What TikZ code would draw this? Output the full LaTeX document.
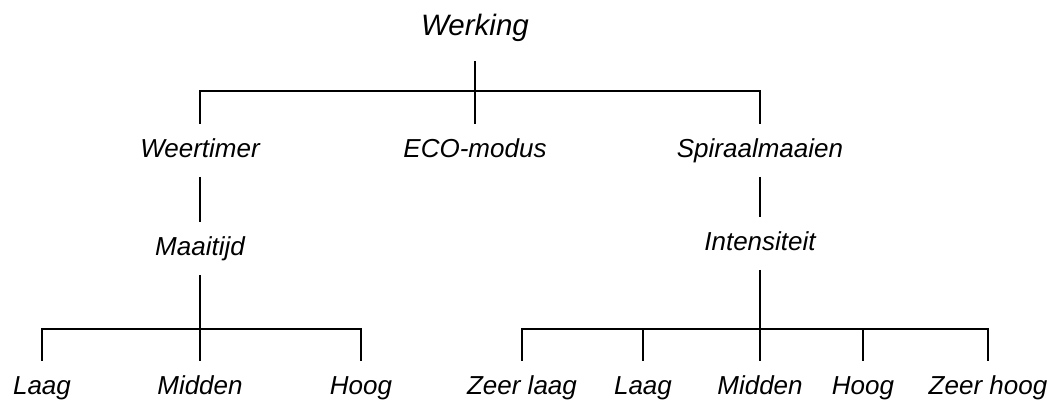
\documentclass[tikz,border=0pt]{standalone}
\usepackage{fontspec}
\setmainfont{Liberation Sans}

\tikzstyle{menuitem} = [
anchor=base,
font=\fontsize{13}{15}\selectfont\itshape,
text height=9.5pt,
text depth=2.75pt,
inner xsep=0pt,
inner ysep=7pt
]
\tikzstyle{rootitem} = [
menuitem,
font=\fontsize{14.75}{17}\selectfont\itshape,
text height=10.5pt,
text depth=3pt,
inner ysep=10pt
]
\tikzstyle{branchline} = [
line width=1.15pt,
draw=black
]

\begin{document}
\begin{tikzpicture}[
x=0.5pt,
y=-0.5pt
]
\useasboundingbox (0,0) rectangle (1062,404);

% Nodes
\node (werking) [rootitem] at (475,35) {Werking};

\node (weertimer) [menuitem] at (200,157) {Weertimer};
\node (eco) [menuitem] at (475,157) {ECO-modus};
\node (spiraal) [menuitem] at (760,157) {Spiraalmaaien};

\node (maaitijd) [menuitem] at (200,255) {Maaitijd};
\node (intensiteit) [menuitem] at (760,250) {Intensiteit};

\node (laagA) [menuitem] at (42,394) {Laag};
\node (middenA) [menuitem] at (200,394) {Midden};
\node (hoogA) [menuitem] at (361,394) {Hoog};

\node (zeerlaagB) [menuitem] at (522,394) {Zeer laag};
\node (laagB) [menuitem] at (643,394) {Laag};
\node (middenB) [menuitem] at (760,394) {Midden};
\node (hoogB) [menuitem] at (863,394) {Hoog};
\node (zeerhoogB) [menuitem] at (988,394) {Zeer hoog};

% Forks
\coordinate (forkTop) at (475,91);
\coordinate (forkLeft) at (200,329);
\coordinate (forkRight) at (760,329);

% Connectors
\draw [branchline] (werking.south) -- (eco.north);
\draw [branchline] (weertimer.north) |- (forkTop) -| (spiraal.north);

\draw [branchline] (weertimer.south) -- (maaitijd.north);
\draw [branchline] (spiraal.south) -- (intensiteit.north);

\draw [branchline] (maaitijd.south) -- (middenA.north);
\draw [branchline] (laagA.north) |- (forkLeft) -| (hoogA.north);

\draw [branchline] (intensiteit.south) -- (middenB.north);
\draw [branchline] (zeerlaagB.north) |- (forkRight) -| (zeerhoogB.north);
\draw [branchline] (laagB.north) -- (laagB.north |- forkRight);
\draw [branchline] (hoogB.north) -- (hoogB.north |- forkRight);

\end{tikzpicture}
\end{document}
